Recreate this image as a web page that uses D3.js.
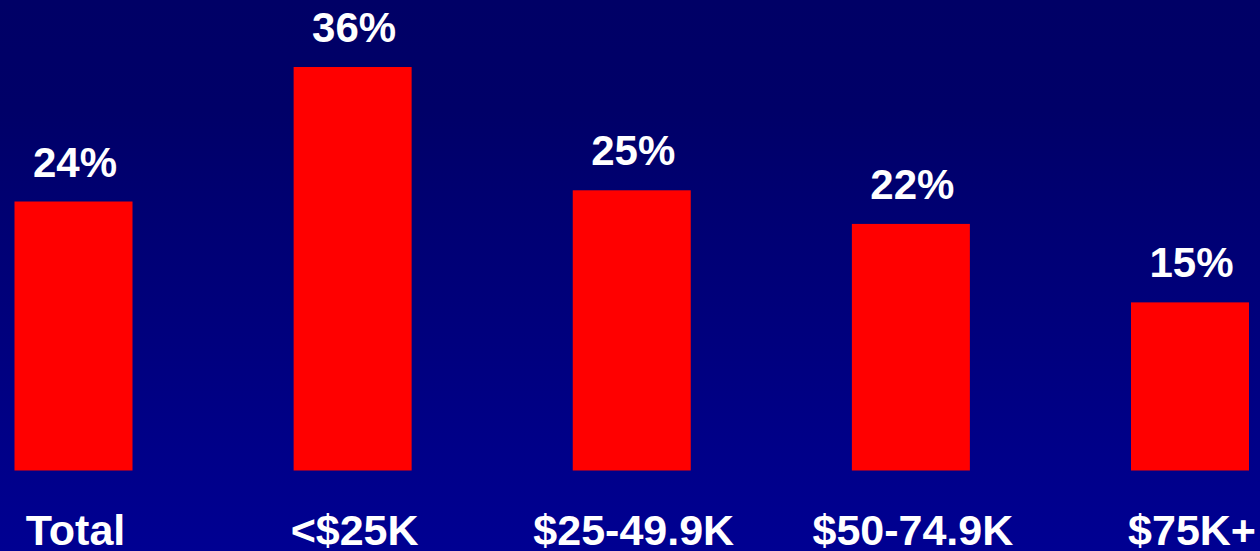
<!DOCTYPE html>
<html><head><meta charset="utf-8">
<script src="https://cdn.jsdelivr.net/npm/d3@7"></script>
<style>html,body{margin:0;padding:0;overflow:hidden;background:#000066}</style>
</head><body>
<svg id="c" width="1260" height="551"></svg>
<script>
const categories = ["Total", "<$25K", "$25-49.9K", "$50-74.9K", "$75K+"];
const values = [24, 36, 25, 22, 15];
const valueLabels = ["24%", "36%", "25%", "22%", "15%"];

const W = 1260, H = 551;
const svg = d3.select("#c");
const defs = svg.append("defs");
const g = defs.append("linearGradient").attr("id","bg").attr("x1",0).attr("y1",0).attr("x2",0).attr("y2",1);
g.append("stop").attr("offset","0").attr("stop-color","#000066");
g.append("stop").attr("offset","0.2").attr("stop-color","#000068");
g.append("stop").attr("offset","1").attr("stop-color","#000092");
svg.append("rect").attr("width",W).attr("height",H).attr("fill","url(#bg)");

const x = d3.scalePoint().domain(categories).range([73.5, 1190]);
const y = d3.scaleLinear().domain([0, 36]).range([470.5, 67]);
const bw = 118;

svg.selectAll("rect.bar").data(categories).enter().append("rect")
  .attr("class","bar")
  .attr("x", d => x(d) - bw/2)
  .attr("y", (d,i) => y(values[i]))
  .attr("width", bw)
  .attr("height", (d,i) => y(0) - y(values[i]))
  .attr("fill", "#ff0000");

svg.selectAll("text.val").data(categories).enter().append("text")
  .attr("class","val")
  .attr("x", d => x(d) + 1.5)
  .attr("y", (d,i) => y(values[i]) - 25)
  .attr("text-anchor","middle")
  .attr("fill","#ffffff")
  .attr("font-family","Liberation Sans, Arial, sans-serif")
  .attr("font-weight","bold")
  .attr("font-size", 42)
  .text((d,i) => valueLabels[i]);

const xAxis = svg.append("g").attr("transform", `translate(0,${y(0)})`)
  .call(d3.axisBottom(x).tickSize(0).tickPadding(0));
xAxis.select(".domain").remove();
xAxis.selectAll("text")
  .attr("dy", null)
  .attr("y", 74.5)
  .attr("dx", 1.5)
  .attr("fill","#ffffff")
  .attr("font-family","Liberation Sans, Arial, sans-serif")
  .attr("font-weight","bold")
  .attr("font-size", 43);
</script>
</body></html>
